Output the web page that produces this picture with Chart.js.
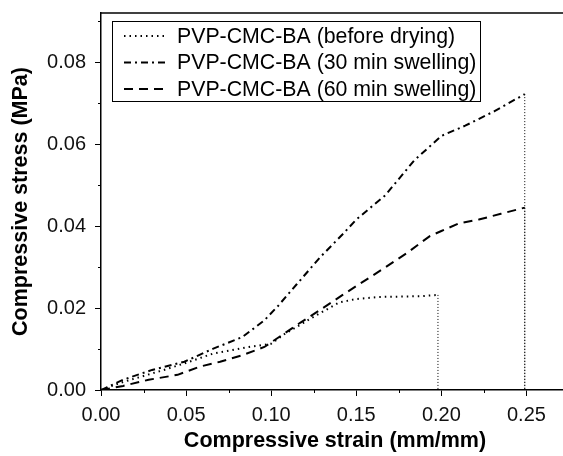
<!DOCTYPE html>
<html>
<head>
<meta charset="utf-8">
<title>Compressive stress-strain</title>
<script src="https://cdn.jsdelivr.net/npm/chart.js@4.4.1/dist/chart.umd.min.js"></script>
<style>
  html, body { margin: 0; padding: 0; background: #fff; overflow: hidden; }
</style>
</head>
<body>
<canvas id="stressChart" width="569" height="456"></canvas>
<script>
// series names
const seriesNames = [
  "PVP-CMC-BA (before drying)",
  "PVP-CMC-BA (30 min swelling)",
  "PVP-CMC-BA (60 min swelling)",
];

// before drying
const strainDry = [0, 0.011, 0.024, 0.037, 0.049, 0.066, 0.087, 0.100, 0.108, 0.119, 0.129, 0.140, 0.150, 0.163, 0.176, 0.188, 0.198, 0.198];
const stressDry = [0, 0.0017, 0.0033, 0.0049, 0.0065, 0.0089, 0.0105, 0.0113, 0.0137, 0.0164, 0.0188, 0.0214, 0.0222, 0.0227, 0.0228, 0.0229, 0.0232, 0];

// 30 min swelling
const strain30 = [0, 0.013, 0.030, 0.049, 0.066, 0.083, 0.096, 0.104, 0.115, 0.129, 0.142, 0.150, 0.167, 0.184, 0.200, 0.214, 0.231, 0.249, 0.249];
const stress30 = [0, 0.0025, 0.0049, 0.0069, 0.0101, 0.0129, 0.0170, 0.0205, 0.0258, 0.0325, 0.0380, 0.0416, 0.0475, 0.0560, 0.0620, 0.0645, 0.0680, 0.0722, 0];

// 60 min swelling
const strain60 = [0, 0.013, 0.028, 0.045, 0.058, 0.070, 0.083, 0.096, 0.106, 0.117, 0.129, 0.142, 0.155, 0.167, 0.180, 0.193, 0.200, 0.210, 0.222, 0.235, 0.249, 0.249];
const stress60 = [0, 0.0010, 0.0025, 0.0037, 0.0057, 0.0069, 0.0085, 0.0105, 0.0133, 0.0164, 0.0196, 0.0232, 0.0267, 0.0299, 0.0335, 0.0375, 0.0388, 0.0406, 0.0416, 0.0430, 0.0445, 0];

// axis ticks
const xTicks = [0, 0.05, 0.10, 0.15, 0.20, 0.25];
const yTicks = [0, 0.02, 0.04, 0.06, 0.08];
const xMinor = [0.025, 0.075, 0.125, 0.175, 0.225, 0.275];
const yMinor = [0.01, 0.03, 0.05, 0.07, 0.09];

const FONT = "'Liberation Sans', Arial, Helvetica, sans-serif";
const lineDashes = [[1.5, 4], [7, 4, 2, 4], [9, 6]];

const toPoints = (xs, ys) => xs.map((v, i) => ({ x: v, y: ys[i] }));

// the fracture drop (vertical segment) is drawn as a fine dotted line
const isDrop = (c) => c.p0.parsed.x === c.p1.parsed.x;
const dropSegment = {
  borderDash: (c) => (isDrop(c) ? [1, 2] : undefined),
  borderWidth: (c) => (isDrop(c) ? 1 : undefined),
};

const makeSet = (i, xs, ys, width) => ({
  label: seriesNames[i],
  data: toPoints(xs, ys),
  borderColor: "#000",
  borderWidth: width,
  borderDash: lineDashes[i],
  pointRadius: 0,
  tension: 0,
  fill: false,
  segment: dropSegment,
});

const data = {
  datasets: [
    makeSet(0, strainDry, stressDry, 2),
    makeSet(1, strain30, stress30, 2),
    makeSet(2, strain60, stress60, 2),
  ],
};

// top frame line, minor ticks and the boxed legend
const extras = {
  id: "extras",
  afterDatasetsDraw(chart) {
    const { ctx, chartArea: a, scales } = chart;
    const x = scales.x, y = scales.y;
    ctx.save();
    ctx.strokeStyle = "#000";
    ctx.lineWidth = 1.5;
    ctx.setLineDash([]);
    ctx.beginPath();
    ctx.moveTo(a.left, a.top);
    ctx.lineTo(a.right, a.top);
    ctx.stroke();

    ctx.lineWidth = 1;
    yMinor.forEach((v) => {
      const py = Math.round(y.getPixelForValue(v)) + 0.5;
      if (py < a.top) return;
      ctx.beginPath();
      ctx.moveTo(a.left - 3, py);
      ctx.lineTo(a.left, py);
      ctx.stroke();
    });
    xMinor.forEach((v) => {
      const px = Math.round(x.getPixelForValue(v)) + 0.5;
      ctx.beginPath();
      ctx.moveTo(px, a.bottom);
      ctx.lineTo(px, a.bottom + 3);
      ctx.stroke();
    });

    // legend
    ctx.lineWidth = 1;
    ctx.strokeRect(112.5, 21.5, 368, 80);
    const rows = [36, 62.5, 89];
    ctx.font = "21.3px " + FONT;
    ctx.fillStyle = "#000";
    ctx.textBaseline = "middle";
    chart.data.datasets.forEach((ds, i) => {
      ctx.lineWidth = ds.borderWidth;
      ctx.setLineDash(ds.borderDash);
      ctx.beginPath();
      ctx.moveTo(124, rows[i]);
      ctx.lineTo(165, rows[i]);
      ctx.stroke();
      ctx.fillText(ds.label, 177, rows[i] + 1);
    });
    ctx.restore();
  },
};

const config = {
  type: "line",
  data: data,
  options: {
    responsive: false,
    animation: false,
    layout: { padding: { top: 13, left: 0, right: 0, bottom: 0 } },
    plugins: {
      legend: { display: false },
      tooltip: { enabled: false },
    },
    scales: {
      x: {
        type: "linear",
        min: 0,
        max: 0.275,
        afterBuildTicks: (s) => { s.ticks = xTicks.map((v) => ({ value: v })); },
        afterFit: (s) => { s.height = 66; s.paddingLeft = 0; s.paddingRight = 0; },
        border: { color: "#000", width: 1.5 },
        grid: { drawOnChartArea: false, tickLength: 6, tickColor: "#000", tickWidth: 1 },
        ticks: {
          color: "#111",
          font: { family: FONT, size: 20 },
          padding: 7,
          maxRotation: 0,
          callback: (v) => v.toFixed(2),
        },
        title: {
          display: true,
          text: "Compressive strain (mm/mm)",
          color: "#000",
          font: { family: FONT, size: 21.5, weight: "bold" },
          padding: { top: 0, bottom: 2 },
        },
      },
      y: {
        min: 0,
        max: 0.092,
        afterBuildTicks: (s) => { s.ticks = yTicks.map((v) => ({ value: v })); },
        afterFit: (s) => { s.width = 101; s.paddingTop = 0; s.paddingBottom = 0; },
        border: { color: "#000", width: 1.5 },
        grid: { drawOnChartArea: false, tickLength: 6, tickColor: "#000", tickWidth: 1 },
        ticks: {
          color: "#111",
          font: { family: FONT, size: 20 },
          padding: 9,
          callback: (v) => v.toFixed(2),
        },
        title: {
          display: true,
          text: "Compressive stress (MPa)",
          color: "#000",
          font: { family: FONT, size: 21.5, weight: "bold" },
          padding: { top: 8, bottom: 0 },
        },
      },
    },
  },
  plugins: [extras],
};

const ctx = document.getElementById("stressChart").getContext("2d");
const stressChart = new Chart(ctx, config);
</script>
</body>
</html>
